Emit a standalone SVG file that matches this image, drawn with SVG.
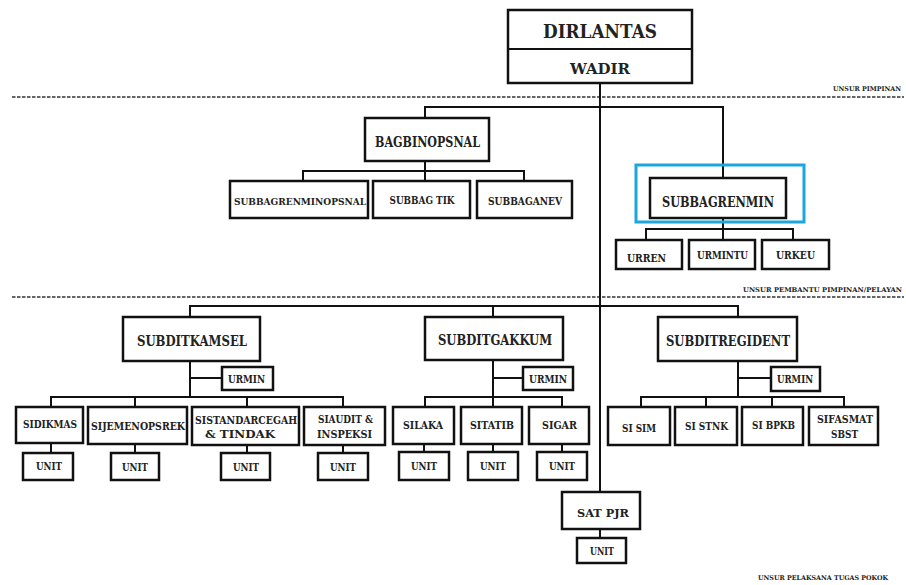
<svg xmlns="http://www.w3.org/2000/svg" width="906" height="585" viewBox="0 0 906 585">
<style>
.b{fill:#fff;stroke:#111;stroke-width:2.5}
.t{font-family:"DejaVu Serif","Liberation Serif",serif;font-weight:bold;fill:#222;text-anchor:middle}
.c{fill:none;stroke:#111;stroke-width:2}
.d{fill:none;stroke:#333;stroke-width:1.6;stroke-dasharray:3.5 1.5}
.l{font-family:"DejaVu Serif","Liberation Serif",serif;font-weight:bold;fill:#222;font-size:6.5px}
</style>
<rect width="906" height="585" fill="#fff"/>
<g id="dividers">
<line class="d" x1="12" y1="97" x2="904" y2="97"/>
<line class="d" x1="12" y1="297" x2="904" y2="297"/>
<text class="l" x="833" y="91" textLength="68" lengthAdjust="spacingAndGlyphs">UNSUR PIMPINAN</text>
<text class="l" x="743" y="292" textLength="159" lengthAdjust="spacingAndGlyphs">UNSUR  PEMBANTU PIMPINAN/PELAYAN</text>
<text class="l" x="758" y="580" textLength="130" lengthAdjust="spacingAndGlyphs">UNSUR PELAKSANA TUGAS POKOK</text>
</g>
<g id="connectors">
<path class="c" d="M600 83V492"/>
<path class="c" d="M425 118V107H723V178"/>
<path class="c" d="M425 161V171M303 181V171H524V181M425 171V181"/>
<path class="c" d="M723 218V229M646 240V229H793V240M723 229V240"/>
<path class="c" d="M190 317V306H738V317M493 306V317"/>
<path class="c" d="M190 361V397M190 378H222M51 407V397H343V407M135 397V407M247 397V407"/>
<path class="c" d="M51 443V453M135 444V453M247 444V453M343 444V453"/>
<path class="c" d="M493 360V397M493 378H523M425 407V397H562V407M493 397V407"/>
<path class="c" d="M424 444V452M493 444V452M562 444V452"/>
<path class="c" d="M738 361V397M738 378H771M641 407V397H844V407M706 397V407M772 397V407"/>
<path class="c" d="M600 529V538"/>
</g>
<g id="dirlantas">
<rect class="b" x="508" y="10" width="184" height="73"/>
<line class="c" x1="508" y1="49" x2="692" y2="49" stroke-width="2.5"/>
<text class="t" x="600" y="38" font-size="18" textLength="114" lengthAdjust="spacingAndGlyphs">DIRLANTAS</text>
<text class="t" x="600" y="74" font-size="15" textLength="60" lengthAdjust="spacingAndGlyphs">WADIR</text>
</g>
<g id="bagbinopsnal">
<rect class="b" x="365" y="118" width="124" height="43"/>
<text class="t" x="427.5" y="147" font-size="14" textLength="105" lengthAdjust="spacingAndGlyphs">BAGBINOPSNAL</text>
</g>
<g id="subbagrenminopsnal">
<rect class="b" x="230" y="181" width="138" height="37"/>
<text class="t" x="300" y="205" font-size="10" textLength="132" lengthAdjust="spacingAndGlyphs">SUBBAGRENMINOPSNAL</text>
</g>
<g id="subbagtik">
<rect class="b" x="373" y="181" width="97" height="37"/>
<text class="t" x="422" y="204" font-size="11" textLength="65" lengthAdjust="spacingAndGlyphs">SUBBAG TIK</text>
</g>
<g id="subbaganev">
<rect class="b" x="477" y="181" width="95" height="37"/>
<text class="t" x="525" y="205" font-size="11" textLength="74" lengthAdjust="spacingAndGlyphs">SUBBAGANEV</text>
</g>
<g id="subbagrenmin">
<rect x="636" y="165" width="168" height="57" fill="none" stroke="#1ba6de" stroke-width="3"/>
<rect class="b" x="650" y="178" width="136" height="40"/>
<text class="t" x="718" y="207" font-size="14.5" textLength="112" lengthAdjust="spacingAndGlyphs">SUBBAGRENMIN</text>
</g>
<g id="urren">
<rect class="b" x="616" y="240" width="66" height="29"/>
<text class="t" x="646.5" y="262" font-size="11.5" textLength="39" lengthAdjust="spacingAndGlyphs">URREN</text>
</g>
<g id="urmintu">
<rect class="b" x="689" y="240" width="66" height="29"/>
<text class="t" x="722.5" y="259" font-size="11.5" textLength="51" lengthAdjust="spacingAndGlyphs">URMINTU</text>
</g>
<g id="urkeu">
<rect class="b" x="762" y="240" width="67" height="29"/>
<text class="t" x="795.5" y="259" font-size="11.5" textLength="39" lengthAdjust="spacingAndGlyphs">URKEU</text>
</g>
<g id="subditkamsel">
<rect class="b" x="123" y="317" width="137" height="44"/>
<text class="t" x="192" y="346" font-size="15" textLength="110" lengthAdjust="spacingAndGlyphs">SUBDITKAMSEL</text>
</g>
<g id="urmin-kamsel">
<rect class="b" x="222" y="367" width="51" height="23"/>
<text class="t" x="246.5" y="383" font-size="11" textLength="37" lengthAdjust="spacingAndGlyphs">URMIN</text>
</g>
<g id="sidikmas">
<rect class="b" x="16" y="407" width="67" height="36"/>
<text class="t" x="50" y="428" font-size="11" textLength="54" lengthAdjust="spacingAndGlyphs">SIDIKMAS</text>
</g>
<g id="sijemenopsrek">
<rect class="b" x="88" y="407" width="99" height="37"/>
<text class="t" x="138" y="430" font-size="10.5" textLength="94" lengthAdjust="spacingAndGlyphs">SIJEMENOPSREK</text>
</g>
<g id="sistandarcegah">
<rect class="b" x="192" y="407" width="107" height="38"/>
<text class="t" x="246" y="424" font-size="10.5" textLength="102" lengthAdjust="spacingAndGlyphs">SISTANDARCEGAH</text>
<text class="t" x="240" y="438" font-size="11" textLength="70" lengthAdjust="spacingAndGlyphs">&amp; TINDAK</text>
</g>
<g id="siaudit">
<rect class="b" x="304" y="407" width="81" height="38"/>
<text class="t" x="345.5" y="423" font-size="11" textLength="55" lengthAdjust="spacingAndGlyphs">SIAUDIT &amp;</text>
<text class="t" x="344.5" y="438" font-size="11" textLength="55" lengthAdjust="spacingAndGlyphs">INSPEKSI</text>
</g>
<g id="unit-sidikmas">
<rect class="b" x="23" y="453" width="50" height="27"/>
<text class="t" x="49" y="470" font-size="11" textLength="26" lengthAdjust="spacingAndGlyphs">UNIT</text>
</g>
<g id="unit-sijemenopsrek">
<rect class="b" x="111" y="453" width="48" height="27"/>
<text class="t" x="135" y="471" font-size="11" textLength="26" lengthAdjust="spacingAndGlyphs">UNIT</text>
</g>
<g id="unit-sistandarcegah">
<rect class="b" x="221" y="453" width="49" height="27"/>
<text class="t" x="246" y="471" font-size="11" textLength="26" lengthAdjust="spacingAndGlyphs">UNIT</text>
</g>
<g id="unit-siaudit">
<rect class="b" x="318" y="453" width="50" height="27"/>
<text class="t" x="343" y="471" font-size="11" textLength="26" lengthAdjust="spacingAndGlyphs">UNIT</text>
</g>
<g id="subditgakkum">
<rect class="b" x="425" y="317" width="138" height="43"/>
<text class="t" x="495" y="345" font-size="15" textLength="114" lengthAdjust="spacingAndGlyphs">SUBDITGAKKUM</text>
</g>
<g id="urmin-gakkum">
<rect class="b" x="523" y="367" width="50" height="23"/>
<text class="t" x="548" y="383" font-size="11" textLength="38" lengthAdjust="spacingAndGlyphs">URMIN</text>
</g>
<g id="silaka">
<rect class="b" x="393" y="407" width="61" height="37"/>
<text class="t" x="423" y="429" font-size="11.5" textLength="40" lengthAdjust="spacingAndGlyphs">SILAKA</text>
</g>
<g id="sitatib">
<rect class="b" x="461" y="407" width="61" height="37"/>
<text class="t" x="492" y="429" font-size="11.5" textLength="44" lengthAdjust="spacingAndGlyphs">SITATIB</text>
</g>
<g id="sigar">
<rect class="b" x="529" y="407" width="60" height="37"/>
<text class="t" x="559.5" y="429" font-size="11.5" textLength="35" lengthAdjust="spacingAndGlyphs">SIGAR</text>
</g>
<g id="unit-silaka">
<rect class="b" x="399" y="452" width="50" height="28"/>
<text class="t" x="424" y="470" font-size="11" textLength="26" lengthAdjust="spacingAndGlyphs">UNIT</text>
</g>
<g id="unit-sitatib">
<rect class="b" x="468" y="452" width="50" height="28"/>
<text class="t" x="493" y="470" font-size="11" textLength="26" lengthAdjust="spacingAndGlyphs">UNIT</text>
</g>
<g id="unit-sigar">
<rect class="b" x="537" y="452" width="50" height="28"/>
<text class="t" x="562" y="470" font-size="11" textLength="26" lengthAdjust="spacingAndGlyphs">UNIT</text>
</g>
<g id="subditregident">
<rect class="b" x="658" y="317" width="139" height="44"/>
<text class="t" x="728" y="346" font-size="15" textLength="124" lengthAdjust="spacingAndGlyphs">SUBDITREGIDENT</text>
</g>
<g id="urmin-regident">
<rect class="b" x="771" y="367" width="49" height="24"/>
<text class="t" x="795" y="383" font-size="11" textLength="36" lengthAdjust="spacingAndGlyphs">URMIN</text>
</g>
<g id="si-sim">
<rect class="b" x="608" y="407" width="62" height="38"/>
<text class="t" x="639" y="432" font-size="11.5" textLength="34" lengthAdjust="spacingAndGlyphs">SI SIM</text>
</g>
<g id="si-stnk">
<rect class="b" x="675" y="407" width="62" height="38"/>
<text class="t" x="706.5" y="430" font-size="11.5" textLength="43" lengthAdjust="spacingAndGlyphs">SI STNK</text>
</g>
<g id="si-bpkb">
<rect class="b" x="742" y="407" width="61" height="38"/>
<text class="t" x="773.5" y="429" font-size="11.5" textLength="43" lengthAdjust="spacingAndGlyphs">SI BPKB</text>
</g>
<g id="sifasmat">
<rect class="b" x="809" y="407" width="69" height="38"/>
<text class="t" x="845" y="423" font-size="11.5" textLength="56" lengthAdjust="spacingAndGlyphs">SIFASMAT</text>
<text class="t" x="844.5" y="438" font-size="11.5" textLength="27" lengthAdjust="spacingAndGlyphs">SBST</text>
</g>
<g id="satpjr">
<rect class="b" x="562" y="492" width="78" height="37"/>
<text class="t" x="603" y="517" font-size="11.5" textLength="52" lengthAdjust="spacingAndGlyphs">SAT PJR</text>
</g>
<g id="unit-satpjr">
<rect class="b" x="577" y="538" width="49" height="25"/>
<text class="t" x="602" y="555" font-size="11" textLength="24" lengthAdjust="spacingAndGlyphs">UNIT</text>
</g>
</svg>
